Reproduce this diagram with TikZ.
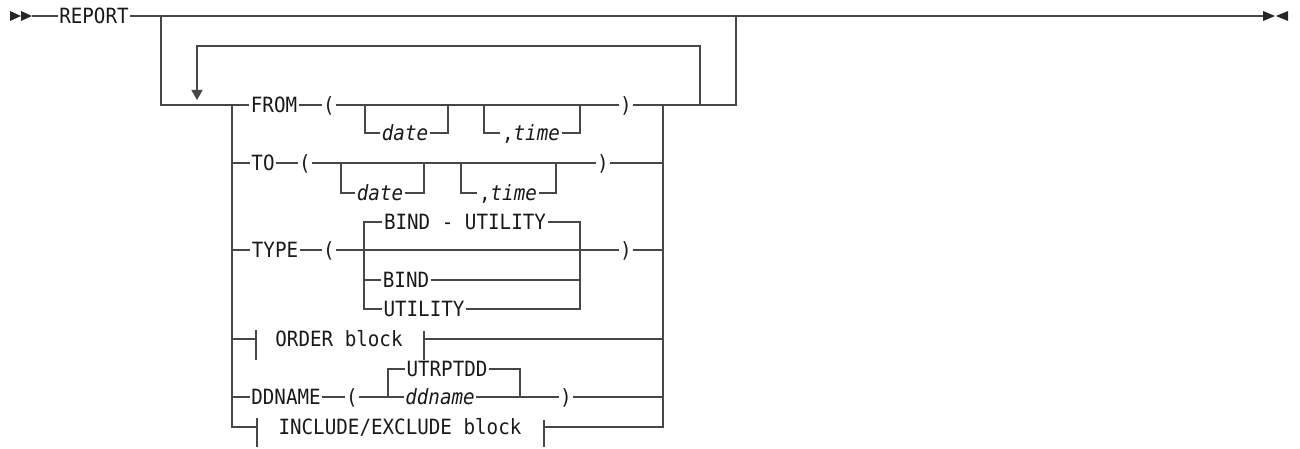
\documentclass[tikz,border=0pt]{standalone}
\usepackage{fontspec}
\newfontfamily\railfont{DejaVu Sans Mono}[FakeStretch=0.915, ItalicFont={DejaVu Sans Mono Oblique}]
\usepackage{tikz}
\usetikzlibrary{arrows.meta}

\begin{document}
\begin{tikzpicture}[x=0.5pt,y=-0.5pt,
  kw/.style={inner xsep=0.6pt, inner ysep=0pt, text height=7.6pt, text depth=0pt,
    text=black!90, font={\railfont\fontsize{10.5}{12}\selectfont}},
  var/.style={kw, font={\railfont\itshape\fontsize{10.5}{12}\selectfont}},
  rail/.style={draw=black!72, line width=0.75pt}]
  \useasboundingbox (0,0) rectangle (1300,449);

  % Main line
  \node[kw] (report) at (94,16) {REPORT};
  \coordinate (start) at (32,16);
  \coordinate (stop) at (1263,16);
  \fill[black!85] (10,11) -- (21,16) -- (10,21) -- cycle;
  \fill[black!85] (21,11) -- (32,16) -- (21,21) -- cycle;
  \fill[black!85] (1263,11) -- (1275,16) -- (1263,21) -- cycle;
  \fill[black!85] (1288,11) -- (1276,16) -- (1288,21) -- cycle;
  \draw[rail] (start) -- (report) -- (stop);

  % Optional, repeatable group
  \coordinate (gl) at (161,16);
  \coordinate (gr) at (736,16);
  \coordinate (sl) at (232,105);
  \coordinate (sr) at (663,105);
  \coordinate (lb) at (700,105);
  \coordinate (lr) at (700,46);
  \coordinate (la) at (197,100);
  \draw[rail, -{Triangle[length=5pt,width=5.5pt]}] (lb) -- (lr) -| (la);

  % FROM row
  \node[kw] (from) at (274,105) {FROM};
  \node[kw] (flp) at (329,105) {(};
  \node[var] (fdate) at (405,133) {date};
  \node[kw] (ftime) at (531,133) {,\textit{time}};
  \node[kw] (frp) at (626,105) {)};
  \coordinate (fd1) at (365,105);
  \coordinate (fd2) at (448,105);
  \coordinate (ft1) at (484,105);
  \coordinate (ft2) at (580,105);
  \draw[rail] (gl) |- (from);
  \draw[rail] (from) -- (flp) -- (frp) -| (gr);
  \draw[rail] (fd1) |- (fdate) -| (fd2);
  \draw[rail] (ft1) |- (ftime) -| (ft2);

  % TO row
  \node[kw] (to) at (263,163) {TO};
  \node[kw] (tolp) at (305,163) {(};
  \node[var] (todate) at (380,193) {date};
  \node[kw] (totime) at (508,193) {,\textit{time}};
  \node[kw] (torp) at (603,163) {)};
  \coordinate (td1) at (341,163);
  \coordinate (td2) at (424,163);
  \coordinate (tt1) at (461,163);
  \coordinate (tt2) at (556,163);
  \draw[rail] (to -| sl) -- (to) -- (tolp) -- (torp) -- (torp -| sr);
  \draw[rail] (td1) |- (todate) -| (td2);
  \draw[rail] (tt1) |- (totime) -| (tt2);

  % TYPE row
  \node[kw] (type) at (275,250) {TYPE};
  \node[kw] (tylp) at (329,250) {(};
  \node[kw] (tybu) at (465,222) {BIND - UTILITY};
  \node[kw] (tybind) at (406,280) {BIND};
  \node[kw] (tyutil) at (424,309) {UTILITY};
  \node[kw] (tyrp) at (626,250) {)};
  \coordinate (ty1) at (364,250);
  \coordinate (ty2) at (580,250);
  \draw[rail] (type -| sl) -- (type) -- (tylp) -- (tyrp) -- (tyrp -| sr);
  \draw[rail] (ty1) |- (tybu) -| (ty2);
  \draw[rail] (ty1) |- (tybind) -| (ty2);
  \draw[rail] (ty1) |- (tyutil) -| (ty2);

  % ORDER block row
  \node[kw] (order) at (339,339) {ORDER block};
  \coordinate (ol) at (256,339);
  \coordinate (or) at (424,339);
  \draw[rail] (ol -| sl) -- (ol) ++(0,-9) -- ++(0,30);
  \draw[rail] (or -| sr) -- (or) ++(0,-8) -- ++(0,29);

  % DDNAME row
  \node[kw] (ddname) at (286,397) {DDNAME};
  \node[kw] (dlp) at (352,397) {(};
  \node[kw] (dutr) at (447,369) {UTRPTDD};
  \node[var] (dvar) at (440,397) {ddname};
  \node[kw] (drp) at (566,397) {)};
  \coordinate (dc1) at (388,397);
  \coordinate (dc2) at (520,397);
  \draw[rail] (ddname -| sl) -- (ddname) -- (dlp) -- (dvar) -- (drp) -- (drp -| sr);
  \draw[rail] (dc1) |- (dutr) -| (dc2);

  % INCLUDE/EXCLUDE block row
  \node[kw] (incl) at (400,427) {INCLUDE/EXCLUDE block};
  \coordinate (il) at (257,427);
  \coordinate (ir) at (544,427);
  \draw[rail] (sl) |- (il) ++(0,-9) -- ++(0,29);
  \draw[rail] (sr) |- (ir) ++(0,-7) -- ++(0,27);
\end{tikzpicture}
\end{document}
